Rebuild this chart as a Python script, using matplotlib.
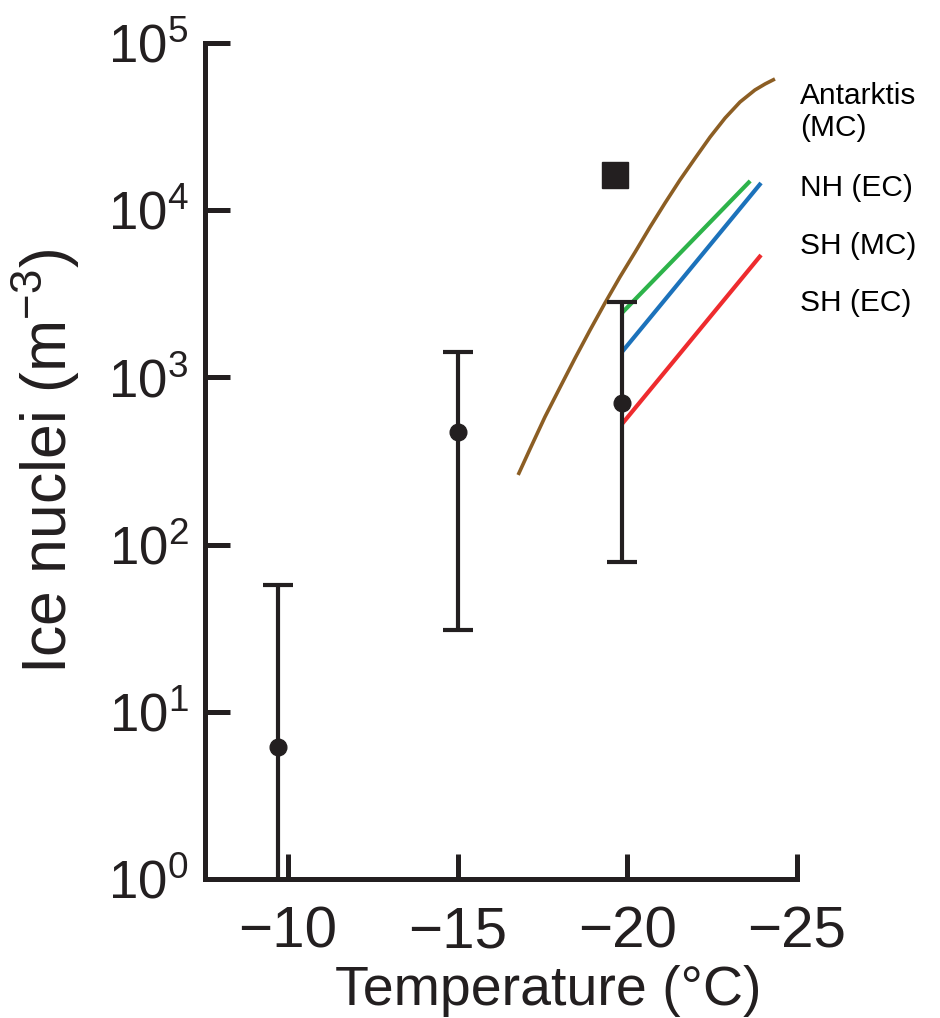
import numpy as np
import matplotlib
matplotlib.use('Agg')
import matplotlib.pyplot as plt

plt.rcParams['font.family'] = ['Liberation Sans', 'DejaVu Sans']
plt.rcParams['mathtext.fontset'] = 'custom'
plt.rcParams['mathtext.rm'] = 'Liberation Sans'
plt.rcParams['mathtext.it'] = 'Liberation Sans'
plt.rcParams['mathtext.default'] = 'regular'

INK = '#231f20'

# Measured ice nuclei (points with ranges)
obs_temp = [-9.71, -15.0, -19.85]
obs_val = [6.2, 471, 703]
obs_low = [0.8, 30.8, 78.7]
obs_high = [57, 1420, 2825]

# single square marker
sq_temp = [-19.64]
sq_val = [16250]

# Antarctic (MC) curve
ant_temp = [-16.78, -17.13, -17.57, -18.02, -18.46, -18.90, -19.34, -19.78, -20.23, -20.67,
            -21.11, -21.55, -22.00, -22.44, -22.88, -23.32, -23.76, -24.06, -24.35]
ant_val = [261, 373, 580, 876, 1306, 1920, 2786, 3985, 5623, 7940,
           11040, 15160, 20510, 27410, 35580, 44360, 52350, 56890, 60950]

# straight parameterisation lines (start, end)
nh_ec_temp = [-19.84, -23.62]
nh_ec_val = [2430, 14960]
sh_mc_temp = [-19.84, -23.94]
sh_mc_val = [1419, 14550]
sh_ec_temp = [-19.84, -23.94]
sh_ec_val = [526, 5395]

labels = ['Antarktis\n(MC)', 'NH (EC)', 'SH (MC)', 'SH (EC)']
xticks = [-10, -15, -20, -25]

fig = plt.figure(figsize=(9.4, 10.18), dpi=100)
ax = fig.add_axes([205/940, 1 - 879/1018, (797-205)/940, (879-43)/1018])

ax.set_yscale('log')
ax.set_ylim(1, 1e5)
ax.set_xlim(-7.55, -25)

ax.plot(ant_temp, ant_val, color='#8c5e24', lw=2.6, solid_capstyle='butt', solid_joinstyle='round')
ax.plot(nh_ec_temp, nh_ec_val, color='#2db34a', lw=3, solid_capstyle='butt')
ax.plot(sh_mc_temp, sh_mc_val, color='#1c72bb', lw=3, solid_capstyle='butt')
ax.plot(sh_ec_temp, sh_ec_val, color='#ee2b2e', lw=3, solid_capstyle='butt')

yerr = [np.array(obs_val) - np.array(obs_low), np.array(obs_high) - np.array(obs_val)]
ax.errorbar(obs_temp, obs_val, yerr=yerr, fmt='o', color=INK, ms=12,
            elinewidth=3, capsize=10.5, capthick=3, zorder=5)
ax.plot(sq_temp, sq_val, 's', color=INK, ms=19)

for s in ['top', 'right']:
    ax.spines[s].set_visible(False)
for s in ['left', 'bottom']:
    ax.spines[s].set_linewidth(3.6)
    ax.spines[s].set_color(INK)
    ax.spines[s].set_capstyle('projecting')

ax.set_xticks(xticks)
ax.set_xticklabels([f'\u2212{abs(t)}' for t in xticks])
ax.set_yticks([1, 10, 100, 1e3, 1e4, 1e5])
ax.minorticks_off()
ax.tick_params(axis='both', direction='in', length=18, width=3.6, color=INK, labelcolor=INK)
ax.tick_params(axis='x', labelsize=42, pad=19)
ax.tick_params(axis='y', labelsize=38, pad=12)

ax.set_xlabel('Temperature (\u00b0C)', fontsize=40, color=INK)
ax.xaxis.set_label_coords(0.579, -0.103)
ax.set_ylabel('Ice nuclei (m$^{\u22123}$)', fontsize=45, color=INK)
ax.yaxis.set_label_coords(-0.207, 0.5)

label_y = [112, 188, 246, 303]
for lab, py in zip(labels, label_y):
    fig.text(800/940, 1 - py/1018, lab, fontsize=21.5, ha='left', va='center',
             linespacing=1.2, color='black')

fig.savefig('out.png', dpi=100)
